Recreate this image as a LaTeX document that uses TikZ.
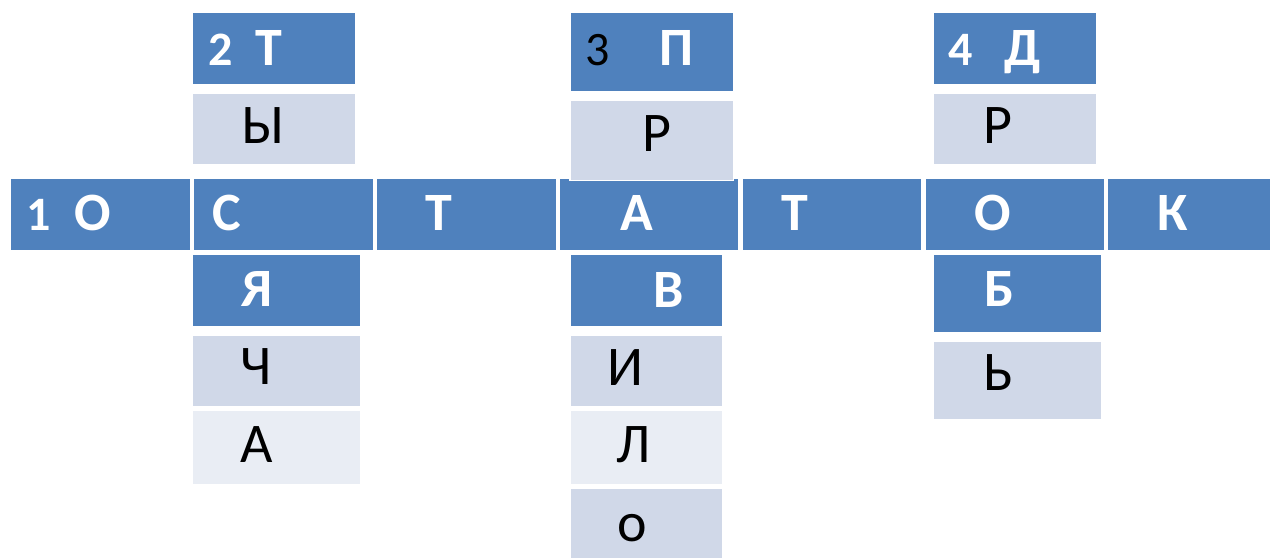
\documentclass[tikz,border=0pt]{standalone}
\usepackage{fontspec}
\setmainfont{Carlito}
\usetikzlibrary{fit}
\definecolor{hdr}{HTML}{4F81BD}
\definecolor{lt}{HTML}{D0D8E8}
\definecolor{vlt}{HTML}{E9EDF4}
\tikzset{
  cellbox/.style={draw=white, line width=1.2pt, inner sep=0pt, outer sep=0pt, rectangle},
  bluebox/.style={cellbox, fill=hdr},
  ltbox/.style={cellbox, fill=lt},
  vltbox/.style={cellbox, fill=vlt},
  wt/.style={anchor=base, inner sep=0pt, text=white, font=\fontsize{54}{60}\selectfont\bfseries},
  wd/.style={anchor=base, inner sep=0pt, text=white, font=\fontsize{48}{56}\selectfont\bfseries},
  bt/.style={anchor=base, inner sep=0pt, text=black, font=\fontsize{56}{62}\selectfont},
  bd/.style={anchor=base, inner sep=0pt, text=black, font=\fontsize{48}{56}\selectfont},
}
\newcommand{\mycell}[6]{\node[#6, fit={(#2,#3) (#4,#5)}] (#1) {};}
\begin{document}
\begin{tikzpicture}[x=1pt,y=-1pt]
\useasboundingbox[fill=white] (0,0) rectangle (1272,558);
% column 2 top
\mycell{c2a}{192}{12.3}{355.7}{84.3}{bluebox}
\mycell{c2b}{192}{93.3}{355.7}{164.7}{ltbox}
% column 3 top
\mycell{c3a}{570}{12.3}{733.7}{92}{bluebox}
% column 4 top
\mycell{c4a}{933}{12.3}{1096.3}{84.3}{bluebox}
\mycell{c4b}{933}{93.3}{1096.3}{164.7}{ltbox}
% row 1
\mycell{r1}{10.3}{178.3}{190.7}{250.7}{bluebox}
\mycell{r2}{193.3}{178.3}{373.3}{250.7}{bluebox}
\mycell{r3}{376}{178.3}{556.3}{250.7}{bluebox}
\mycell{r4}{559}{178.3}{739}{250.7}{bluebox}
\mycell{r5}{742}{178.3}{922}{250.7}{bluebox}
\mycell{r6}{925}{178.3}{1105}{250.7}{bluebox}
\mycell{r7}{1107.7}{178.3}{1271}{250.7}{bluebox}
% column 3 second cell over row
\mycell{c3b}{570}{100}{733.7}{180.7}{ltbox}
% column 2 lower
\mycell{c2c}{192}{254}{360.7}{326.7}{bluebox}
\mycell{c2d}{192}{335}{360.7}{406.7}{ltbox}
\mycell{c2e}{192}{410}{360.7}{485}{vltbox}
% column 3 lower
\mycell{c3c}{570}{254}{723}{326.7}{bluebox}
\mycell{c3d}{570}{335}{723}{406.7}{ltbox}
\mycell{c3e}{570}{410}{723}{485}{vltbox}
\mycell{c3f}{570}{488.3}{723}{559}{ltbox}
% column 4 lower
\mycell{c4c}{933}{254}{1101.3}{333}{bluebox}
\mycell{c4d}{933}{341.3}{1101.3}{420}{ltbox}
% texts
\node[wd] (n1) at (38.5,230.7) {1};
\node[wt] (l1) at (92.5,230.7) {О};
\node[wt] (l2) at (227,230.7) {С};
\node[wt] (l3) at (439,230.7) {Т};
\node[wt] (l4) at (637,230.7) {А};
\node[wt] (l5) at (795,230.7) {Т};
\node[wt] (l6) at (993,230.7) {О};
\node[wt] (l7) at (1172.5,230.7) {К};
\node[wd] (n2) at (220.5,65.7) {2};
\node[wt] (t2) at (269,65.7) {Т};
\node[bt] (y2) at (262.7,143.3) {Ы};
\node[wt] (ya) at (256.7,306.7) {Я};
\node[bt] (ch) at (256.3,384) {Ч};
\node[bt] (a2) at (257,462.3) {А};
\node[bd] (n3) at (597.5,65.7) {3};
\node[wt] (p3) at (676,65.7) {П};
\node[bt] (r3t) at (656.5,151.7) {Р};
\node[wt] (v3) at (669,307.7) {В};
\node[bt] (i3) at (625.5,385) {И};
\node[bt] (el3) at (633.6,462.7) {Л};
\node[bt] (o3) at (632.5,541.7) {о};
\node[wd] (n4) at (961,65.7) {4};
\node[wt] (d4) at (1022.5,65.7) {Д};
\node[bt] (r4t) at (998,143.3) {Р};
\node[wt] (b4) at (999.5,306.7) {Б};
\node[bt] (s4) at (998.3,390) {Ь};
\end{tikzpicture}
\end{document}
